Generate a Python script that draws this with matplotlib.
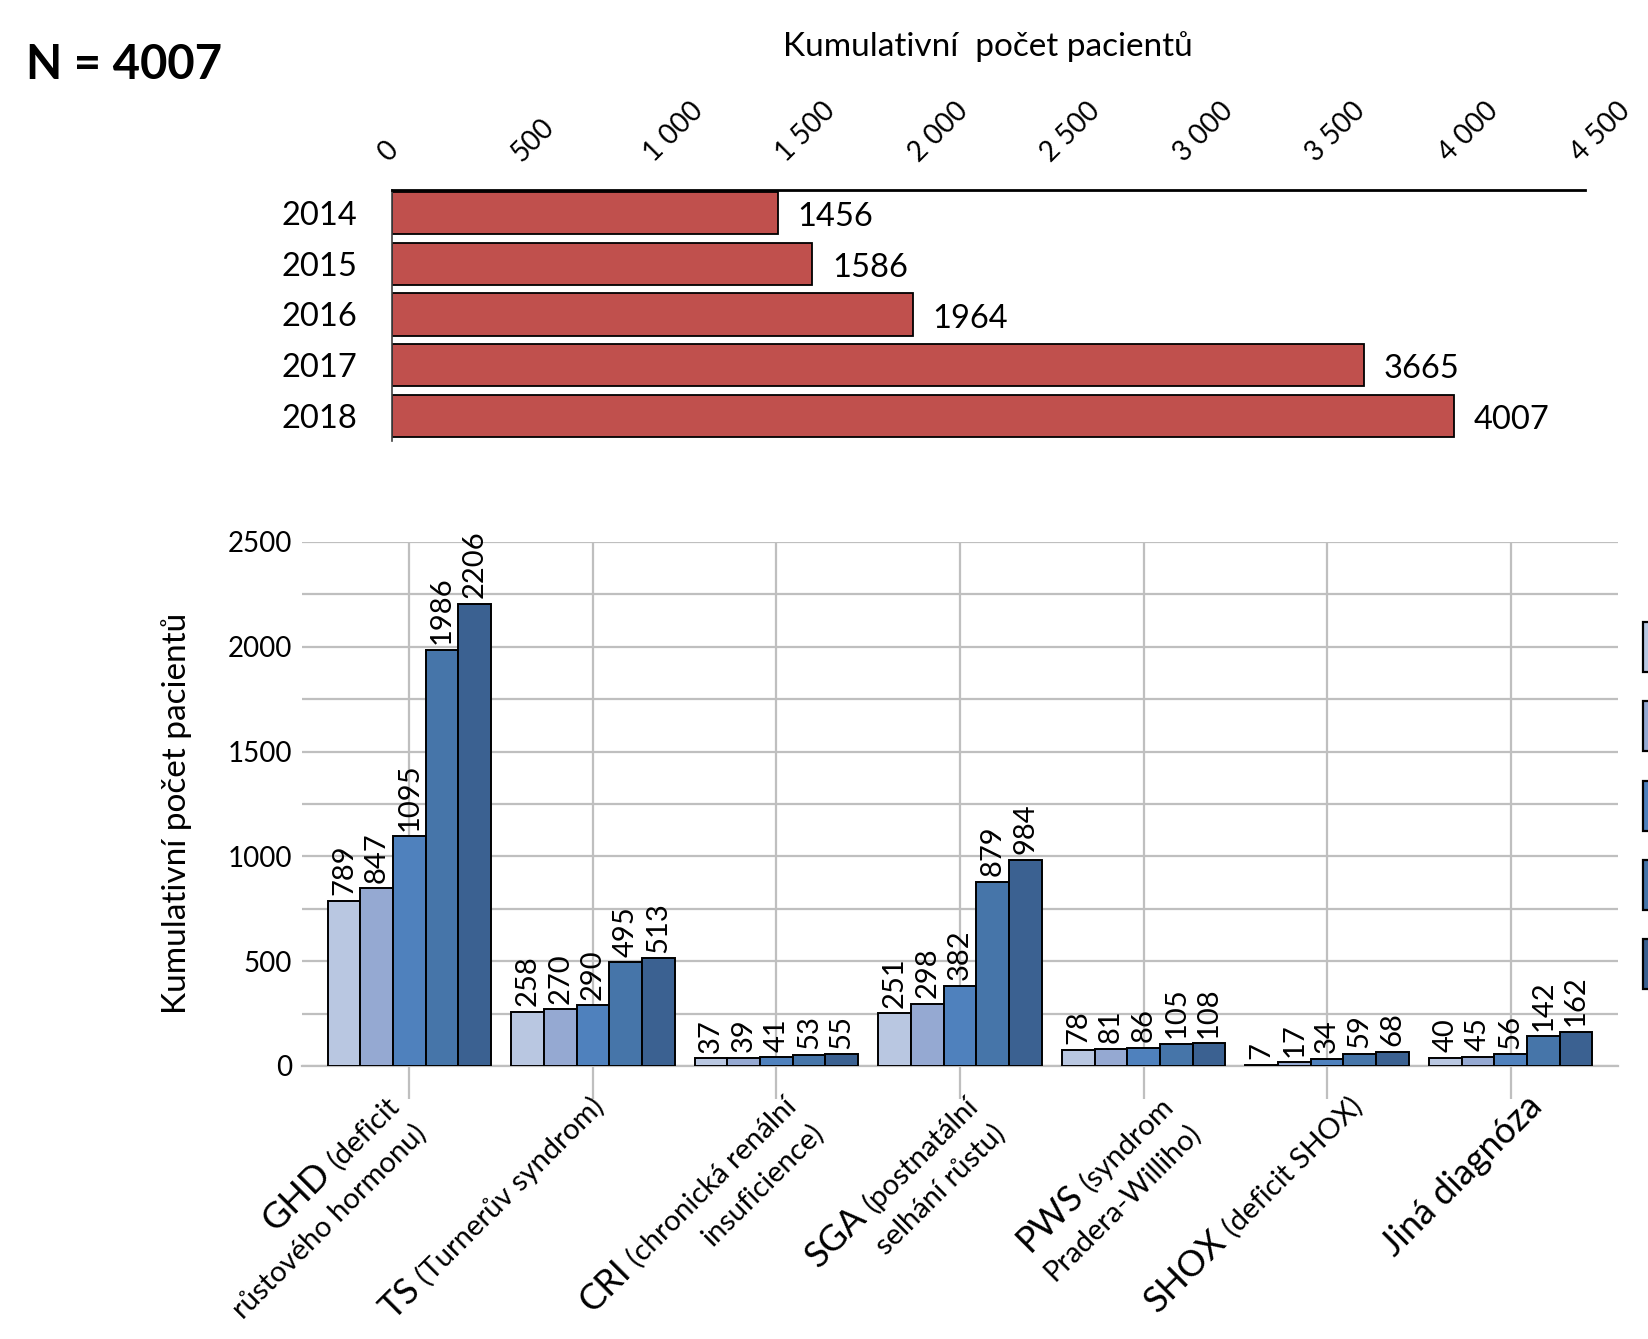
import numpy as np
import matplotlib
matplotlib.use("Agg")
import matplotlib.pyplot as plt
import matplotlib.transforms as mtransforms
from matplotlib.patches import Patch

plt.rcParams["font.family"] = ["Lato", "DejaVu Sans"]

# top chart: cumulative patients per year
years = ["2014", "2015", "2016", "2017", "2018"]
totals = [1456, 1586, 1964, 3665, 4007]

# bottom chart: cumulative patients per diagnosis and year
diag_2014 = [789, 258, 37, 251, 78, 7, 40]
diag_2015 = [847, 270, 39, 298, 81, 17, 45]
diag_2016 = [1095, 290, 41, 382, 86, 34, 56]
diag_2017 = [1986, 495, 53, 879, 105, 59, 142]
diag_2018 = [2206, 513, 55, 984, 108, 68, 162]
series = [diag_2014, diag_2015, diag_2016, diag_2017, diag_2018]
colors = ["#B9C7E1", "#95A9D2", "#4F81BD", "#4675A9", "#3B6191"]

# category labels: lines of (text, big?) pieces
cat_labels = [
    [[("GHD", True), ("(deficit", False)], [("růstového hormonu)", False)]],
    [[("TS", True), ("(Turnerův syndrom)", False)]],
    [[("CRI", True), ("(chronická renální", False)], [("insuficience)", False)]],
    [[("SGA", True), ("(postnatální", False)], [("selhání růstu)", False)]],
    [[("PWS", True), ("(syndrom", False)], [("Pradera-Williho)", False)]],
    [[("SHOX", True), ("(deficit SHOX)", False)]],
    [[("Jiná diagnóza", True)]],
]
# horizontal shift (px) of each label's end relative to its tick
label_dx = [-27, -6, 3, 1, 13, 18, 15]

W, H = 1648, 1339
fig = plt.figure(figsize=(W / 100, H / 100), dpi=100)

fig.text(26 / W, 1 - 79 / H, "N = 4007", fontsize=34, fontweight="bold",
         ha="left", va="baseline")
fig.text(988 / W, 1 - 47 / H, "Kumulativní  počet pacientů", fontsize=24,
         ha="center", va="center")

# ---- top horizontal bars
ax1 = fig.add_axes([392 / W, 1 - 441 / H, 1193 / W, 251 / H])
y = np.arange(len(years))
ax1.barh(y, totals, height=0.83, color="#C0504D", edgecolor="black", linewidth=1.3)
for i, v in enumerate(totals):
    ax1.annotate(str(v), (v, i), xytext=(14, -3), textcoords="offset points",
                 va="center", ha="left", fontsize=23.5)
ax1.set_xlim(0, 4500)
ax1.set_ylim(4.49, -0.45)
ax1.xaxis.tick_top()
xt = np.arange(0, 4501, 500)
ax1.set_xticks(xt, [f"{v:,}".replace(",", " ") for v in xt])
for lbl in ax1.get_xticklabels():
    lbl.set_rotation(45)
    lbl.set_ha("left")
    lbl.set_va("bottom")
    lbl.set_rotation_mode("anchor")
ax1.tick_params(axis="x", length=0, pad=17, labelsize=20)
ax1.set_yticks(y, years)
ax1.tick_params(axis="y", length=0, pad=25, labelsize=23.5)
for s in ["right", "bottom"]:
    ax1.spines[s].set_visible(False)
ax1.spines["top"].set_linewidth(2)
ax1.spines["left"].set_linewidth(1.2)
ax1.spines["left"].set_color("#404040")

# ---- bottom grouped bars
ax2 = fig.add_axes([302 / W, 1 - 1066 / H, 1316 / W, 524 / H])
x = np.arange(len(cat_labels))
bw = 0.178
for j, vals in enumerate(series):
    bars = ax2.bar(x + (j - 2) * bw, vals, bw, color=colors[j], edgecolor="black",
                   linewidth=1.4, label=years[j], zorder=3)
    ax2.bar_label(bars, padding=4, rotation=90, fontsize=21)
ax2.set_xlim(-0.585, 6.585)
ax2.set_ylim(0, 2500)
ax2.set_yticks(np.arange(0, 2501, 500))
ax2.set_yticks(np.arange(250, 2500, 500), minor=True)
ax2.set_xticks(x, [""] * len(x))
ax2.set_axisbelow(True)
ax2.grid(True, which="both", color="#BFBFBF", linewidth=1.6)
ax2.tick_params(axis="y", which="both", length=0, pad=7, labelsize=20)
ax2.tick_params(axis="x", length=24, width=1.6, color="#BFBFBF", direction="out")
for s in ax2.spines.values():
    s.set_visible(False)
ax2.spines["bottom"].set_visible(True)
ax2.spines["bottom"].set_color("#BFBFBF")
ax2.spines["bottom"].set_linewidth(1.6)

fig.text(177 / W, 1 - 813 / H, "Kumulativní počet pacientů", fontsize=24,
         rotation=90, ha="center", va="center")

# rotated category labels with mixed sizes
renderer = fig.canvas.get_renderer()
big, small = 26, 21


def text_width(s, size):
    t = fig.text(0, 0, s, fontsize=size)
    w = t.get_window_extent(renderer=renderer).width
    t.remove()
    return w


u = np.array([np.cos(np.pi / 4), np.sin(np.pi / 4)])
down = np.array([np.sin(np.pi / 4), -np.cos(np.pi / 4)])
space = 0.22 * big * 100 / 72
asc = 0.74 * big * 100 / 72
line_gap = 38
xtrans = ax2.get_xaxis_transform()
for i, lines in enumerate(cat_labels):
    anchor = np.array([label_dx[i], -23])
    for li, pieces in enumerate(lines):
        sizes = [big if b else small for _, b in pieces]
        widths = [text_width(t, sz) for (t, _), sz in zip(pieces, sizes)]
        total = sum(widths) + space * (len(pieces) - 1)
        cum = 0.0
        for (t, _), sz, w in zip(pieces, sizes, widths):
            p = anchor + u * (-total + cum) + down * (asc + li * line_gap)
            tr = xtrans + mtransforms.ScaledTranslation(p[0] / 100, p[1] / 100,
                                                        fig.dpi_scale_trans)
            ax2.text(i, 0, t, transform=tr, fontsize=sz, rotation=45,
                     rotation_mode="anchor", ha="left", va="baseline", clip_on=False)
            cum += w + space

# legend, mostly outside the picture on the right
handles = [Patch(facecolor=c, edgecolor="black", linewidth=1.6) for c in colors]
fig.legend(handles, years, loc="upper left", bbox_to_anchor=(1643 / W, 1 - 622 / H),
           frameon=False, fontsize=20, handlelength=2.0, handleheight=2.4,
           labelspacing=1.05, borderpad=0, borderaxespad=0)

fig.savefig("out.png", dpi=100)
